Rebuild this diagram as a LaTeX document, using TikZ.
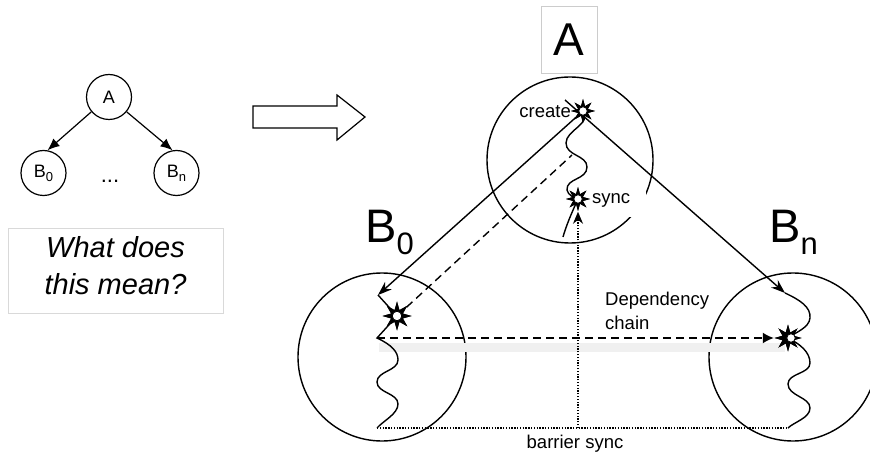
\documentclass[tikz,border=0pt]{standalone}
\usepackage{fontspec}
\setmainfont{Liberation Sans}
\usetikzlibrary{arrows.meta,shapes.geometric}
\begin{document}
\begin{tikzpicture}[x=1pt,y=-1pt,
  bigc/.style={circle, draw, line width=1.4pt, minimum size=166pt, inner sep=0pt},
  smallc/.style={circle, draw, line width=1.2pt, minimum size=45pt, inner sep=0pt, font=\fontsize{18}{20}\selectfont},
  burst/.style={star, star points=8, star point ratio=2.3, fill=black, inner sep=0pt, minimum size=24pt},
  hole/.style={circle, fill=white, draw=black, line width=0.8pt, inner sep=0pt, minimum size=8.5pt},
  thread/.style={line width=1.4pt},
  dashline/.style={line width=1.4pt, dash pattern=on 8pt off 5pt},
  dotline/.style={line width=1.3pt, dash pattern=on 1.3pt off 1.5pt},
  lbl/.style={font=\fontsize{18.5}{24}\selectfont, inner sep=0pt},
  biglbl/.style={font=\fontsize{47}{47}\selectfont, inner sep=0pt, anchor=base west},
  tip/.style={-{Stealth[length=14pt,width=10pt]}}
]
\useasboundingbox (0,0) rectangle (870,454);

% ---- left small tree ----
\node[smallc] (ta) at (109,97) {A};
\node[smallc] (tb0) at (43.5,173) {B\raisebox{-4pt}{\fontsize{13}{13}\selectfont 0}};
\node[smallc] (tbn) at (176.5,173) {B\raisebox{-4pt}{\fontsize{13}{13}\selectfont n}};
\node[lbl, anchor=base, font=\fontsize{22}{22}\selectfont] (tdots) at (110,183) {...};
\draw[line width=1.2pt, -{Latex[length=12pt,width=10pt]}] (ta.220) -- (tb0.80);
\draw[line width=1.2pt, -{Latex[length=12pt,width=10pt]}] (ta.-40) -- (tbn.100);

\node[draw=black!15, line width=0.8pt, minimum width=215pt, minimum height=85pt] (qbox) at (115.5,270.5) {};
\node[align=center, inner sep=0pt, font=\itshape\fontsize{29}{37}\selectfont] (q) at (115.5,265.5) {What does\\this mean?};

% ---- hollow arrow ----
\draw[line width=1.2pt, fill=white] (253,106) -- (337,106) -- (337,95) -- (365,117) -- (337,140) -- (337,128) -- (253,128) -- cycle;

% ---- main diagram ----
\node[draw=black!20, line width=0.6pt, minimum width=56pt, minimum height=67pt, inner sep=0pt, font=\fontsize{46}{46}\selectfont] (alab) at (569,39.5) {A};

\node[bigc] (ca) at (570,160) {};
\node[bigc, minimum size=168pt] (cb0) at (382,357) {};
\node[bigc, minimum size=168pt] (cbn) at (793,357) {};

\node[biglbl] (lb0) at (365,243) {B\raisebox{-12pt}{\fontsize{31}{31}\selectfont 0}};
\node[biglbl] (lbn) at (769,243) {B\raisebox{-12pt}{\fontsize{31}{31}\selectfont n}};

\coordinate (b0top) at (378,295);
\coordinate (b0mid) at (377,338);
\coordinate (b0bot) at (377,428);
\coordinate (bntop) at (785,293);
\coordinate (bnbot) at (788,428);
\coordinate (bnstart) at (565,100);
\coordinate (adash) at (572,155);
\coordinate (bmid) at (578,428);
\coordinate (athreadend) at (563,237);

% shadow of dependency chain
\draw[line width=9pt, black!6] (379,347) -- (785,347);

\node[lbl, anchor=east] (tcreate) at (571,112) {create};
\node[lbl, anchor=west, fill=white, minimum height=34pt, text width=51pt, inner xsep=3pt, align=left] (tsync) at (589,200) {sync};
\node[lbl, anchor=north west, align=left] (tdep) at (605,292) {Dependency\\chain};
\node[lbl] (tbar) at (575,444) {barrier sync};

% star nodes
\node[burst] (cs) at (583,111) {};
\node[burst] (ss) at (578,199) {};
\node[burst, minimum size=29pt] (sb) at (397,316) {};
\node[burst, minimum size=27pt] (sn) at (788,338) {};

% threads
\draw[thread] (cs.center) .. controls (592,124) and (566,130) .. (566,143)
  .. controls (566,156) and (587,155) .. (587,167)
  .. controls (587,180) and (566,178) .. (567,190)
  .. controls (568,195) and (574,198) .. (ss.center);
\draw[thread] (ss.center) .. controls (572,212) and (566,226) .. (athreadend);

\draw[thread] (b0top) -- (sb.center) -- (b0mid)
  .. controls (392,345) and (398,352) .. (398,360)
  .. controls (398,371) and (377,371) .. (377,382)
  .. controls (377,393) and (398,393) .. (398,404)
  .. controls (398,414) and (383,421) .. (b0bot);

\draw[thread] (bntop) .. controls (800,300) and (811,307) .. (810,318)
  .. controls (809,328) and (796,332) .. (sn.center)
  .. controls (800,344) and (810,352) .. (810,363)
  .. controls (810,374) and (788,373) .. (788,384)
  .. controls (788,396) and (810,397) .. (810,408)
  .. controls (810,418) and (794,422) .. (bnbot);

% connectors
\draw[thread, tip] (cs.center) -- (b0top);
\draw[thread, tip] (bnstart) -- (bntop);
\draw[dashline] (sb.center) -- (adash);
\draw[dashline, -{Latex[length=11pt,width=11pt]}] (b0mid) -- (sn.west);
\draw[dotline] (b0bot) -- (bnbot);
\draw[dotline, -{Stealth[length=12pt,width=10pt]}] (bmid) -- (ss.south);

% redraw stars on top
\node[burst] (cs2) at (cs.center) {};
\node[burst] (ss2) at (ss.center) {};
\node[burst, minimum size=29pt] (sb2) at (sb.center) {};
\node[burst, minimum size=27pt] (sn2) at (sn.center) {};
\node[hole] (csh) at (cs.center) {};
\node[hole] (ssh) at (ss.center) {};
\node[hole, minimum size=9.5pt] (sbh) at (sb.center) {};
\node[hole] (snh) at ([xshift=3pt]sn.center) {};
\end{tikzpicture}
\end{document}
